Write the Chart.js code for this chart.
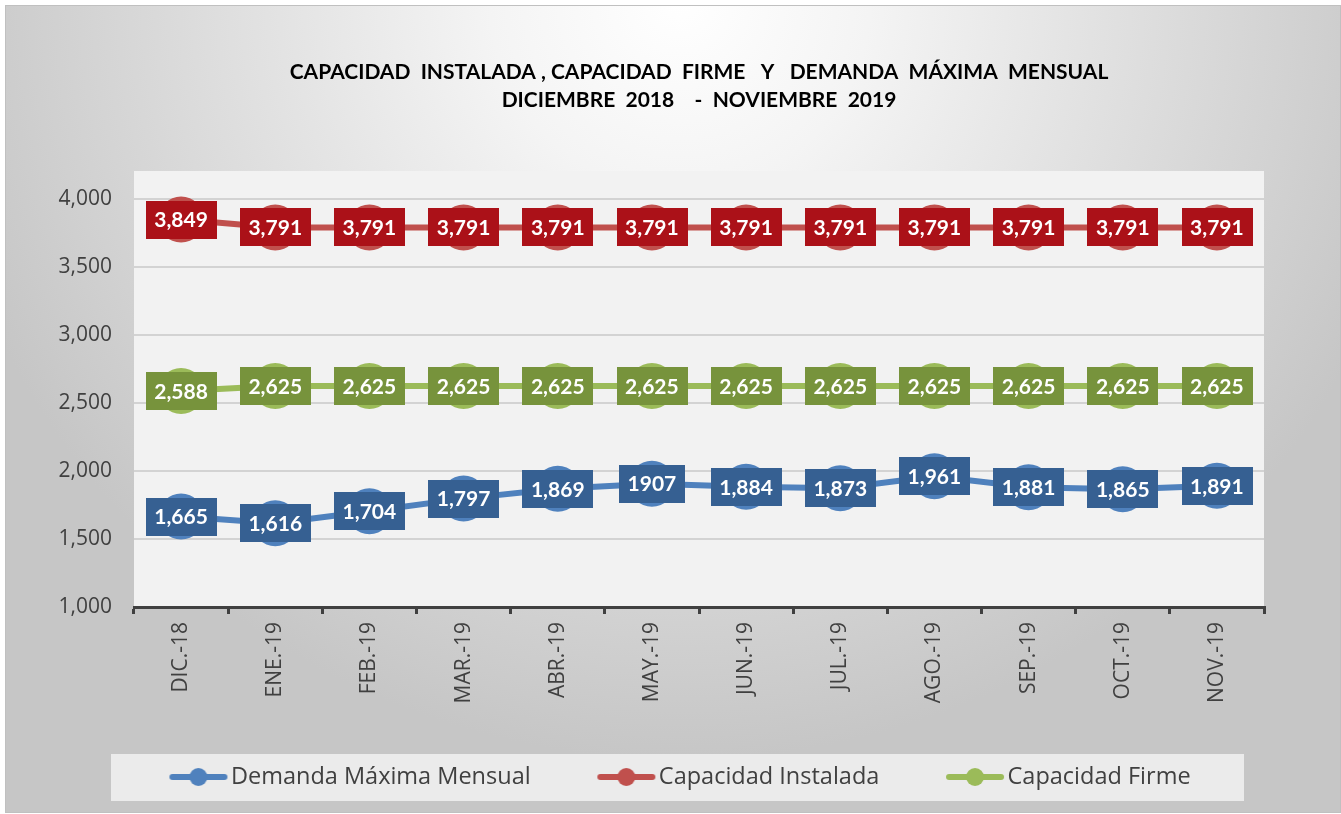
<!DOCTYPE html>
<html>
<head>
<meta charset="utf-8">
<script src="https://cdn.jsdelivr.net/npm/chart.js@4.4.0/dist/chart.umd.min.js"></script>
<style>
html,body{margin:0;padding:0;background:#fff;}
#wrap{position:absolute;left:0;top:0;width:1341px;height:814px;}
</style>
</head>
<body>
<div id="wrap"><canvas id="c" width="1341" height="814"></canvas></div>
<script>
const categories = ['DIC.-18','ENE.-19','FEB.-19','MAR.-19','ABR.-19','MAY.-19','JUN.-19','JUL.-19','AGO.-19','SEP.-19','OCT.-19','NOV.-19'];
const demandaMaxima = [1665,1616,1704,1797,1869,1907,1884,1873,1961,1881,1865,1891];
const demandaLabels = ['1,665','1,616','1,704','1,797','1,869','1907','1,884','1,873','1,961','1,881','1,865','1,891'];
const capacidadInstalada = [3849,3791,3791,3791,3791,3791,3791,3791,3791,3791,3791,3791];
const capacidadFirme = [2588,2625,2625,2625,2625,2625,2625,2625,2625,2625,2625,2625];
const yTicks = [1000,1500,2000,2500,3000,3500,4000];
const seriesNames = ['Demanda Máxima Mensual','Capacidad Instalada','Capacidad Firme'];
const titleLines = ['CAPACIDAD  INSTALADA , CAPACIDAD  FIRME   Y   DEMANDA  MÁXIMA  MENSUAL','DICIEMBRE  2018    -  NOVIEMBRE  2019'];

const lineColors = ['#4F81BD','#C0504D','#9BBB59'];
const boxColors = ['#366092','#AB1118','#77933C'];

function fmt(v){ return v.toLocaleString('en-US'); }

function legendIcon(color){
  const cv = document.createElement('canvas');
  cv.width = 60; cv.height = 20;
  const g = cv.getContext('2d');
  g.strokeStyle = color; g.lineWidth = 6; g.lineCap = 'round';
  g.beginPath(); g.moveTo(4,10); g.lineTo(56,10); g.stroke();
  g.fillStyle = color;
  g.beginPath(); g.arc(30,10,9,0,Math.PI*2); g.fill();
  return cv;
}
const legendIcons = lineColors.map(legendIcon);

const bgPlugin = {
  id: 'bg',
  afterLayout(chart){
    if (chart.legend) { chart.legend.left = 27.25; chart.legend.right = 1341; }
    const xs = chart.scales.x;
    if (xs) { xs.bottom = xs.top + 130; }
  },
  beforeDraw(chart){
    const ctx = chart.ctx, W = chart.width, H = chart.height;
    ctx.save();
    ctx.fillStyle = '#ffffff';
    ctx.fillRect(0,0,W,H);
    const grd = ctx.createRadialGradient(680, 0, 0, 680, 0, 760);
    grd.addColorStop(0, '#ffffff');
    grd.addColorStop(0.25, '#f4f4f4');
    grd.addColorStop(1, '#c6c6c6');
    ctx.fillStyle = grd;
    ctx.fillRect(6,6,W-7,H-8);
    ctx.strokeStyle = '#c0c0c0'; ctx.lineWidth = 1;
    ctx.strokeRect(5.5,5.5,W-6,H-7);
    const ca = chart.chartArea;
    ctx.fillStyle = '#f2f2f2';
    ctx.fillRect(ca.left, ca.top - 28, ca.right - ca.left, ca.bottom - ca.top + 28);
    ctx.fillStyle = '#ebebeb';
    ctx.fillRect(111, 754, 1133, 47);
    ctx.restore();
  }
};

const labelPlugin = {
  id: 'vlabels',
  afterDatasetsDraw(chart){
    const ctx = chart.ctx;
    ctx.save();
    ctx.font = 'bold 21px Lato';
    ctx.textAlign = 'center';
    ctx.textBaseline = 'middle';
    chart.data.datasets.forEach((ds, di) => {
      const meta = chart.getDatasetMeta(di);
      meta.data.forEach((pt, i) => {
        const txt = ds.labelTexts[i];
        const w = ctx.measureText(txt).width + 17;
        const h = 38;
        ctx.fillStyle = boxColors[di];
        ctx.fillRect(Math.round(pt.x - w/2), Math.round(pt.y - h/2), Math.round(w), h);
        ctx.fillStyle = '#ffffff';
        ctx.fillText(txt, pt.x, pt.y + 1);
      });
    });
    ctx.restore();
  }
};

const mkDs = (name, data, labels, idx) => ({
  label: name,
  data: data,
  labelTexts: labels,
  borderColor: lineColors[idx],
  backgroundColor: lineColors[idx],
  borderWidth: 6,
  pointRadius: 23,
  pointHoverRadius: 23,
  pointBackgroundColor: lineColors[idx],
  pointBorderWidth: 0,
  tension: 0,
  clip: false
});

new Chart(document.getElementById('c'), {
  type: 'line',
  data: {
    labels: categories,
    datasets: [
      mkDs(seriesNames[0], demandaMaxima, demandaLabels, 0),
      mkDs(seriesNames[1], capacidadInstalada, capacidadInstalada.map(fmt), 1),
      mkDs(seriesNames[2], capacidadFirme, capacidadFirme.map(fmt), 2)
    ]
  },
  options: {
    responsive: false,
    animation: false,
    devicePixelRatio: 1,
    layout: { padding: { left: 0, right: 77, top: 0, bottom: 15.25 } },
    plugins: {
      tooltip: { enabled: false },
      title: {
        display: true,
        fullSize: false,
        text: titleLines,
        color: '#000000',
        font: { family: 'Lato', weight: 'bold', size: 21, lineHeight: 28/21 },
        padding: { top: 58, bottom: 85 }
      },
      legend: {
        position: 'bottom',
        labels: {
          usePointStyle: true,
          pointStyleWidth: 41.5,
          padding: 75,
          color: '#404040',
          font: { family: 'Open Sans', size: 23.5 },
          generateLabels(chart){
            const items = Chart.defaults.plugins.legend.labels.generateLabels(chart);
            items.forEach((it, i) => { it.pointStyle = legendIcons[i]; });
            return items;
          }
        }
      }
    },
    scales: {
      x: {
        offset: true,
        afterFit(scale){ scale.height = 83.25; },
        border: { display: true, color: '#404040', width: 3 },
        grid: { display: true, offset: true, drawOnChartArea: false, drawTicks: true, tickLength: 7, color: '#404040', lineWidth: 3 },
        ticks: { color: '#404040', font: { family: 'Open Sans', size: 21 }, minRotation: 90, maxRotation: 90, padding: 8, autoSkip: false }
      },
      y: {
        min: 1000,
        max: 4000,
        afterFit(scale){ scale.width = 134; },
        afterBuildTicks(scale){ scale.ticks = yTicks.map(v => ({ value: v })); },
        border: { display: false },
        grid: { color: '#d3d3d3', lineWidth: 2, drawTicks: false },
        ticks: { color: '#404040', font: { family: 'Open Sans', size: 21 }, padding: 22, callback: v => fmt(v) }
      }
    }
  },
  plugins: [bgPlugin, labelPlugin]
});
</script>
</body>
</html>
